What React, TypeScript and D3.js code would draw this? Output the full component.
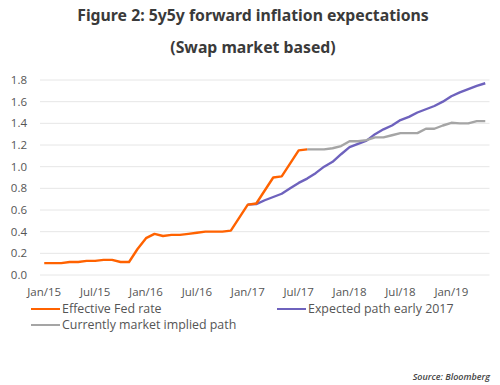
import * as d3 from "d3";

// monthly points, index 0 = Jan 2015
const tickLabels = ["Jan/15", "Jul/15", "Jan/16", "Jul/16", "Jan/17", "Jul/17", "Jan/18", "Jul/18", "Jan/19"];
const yTicks = [0, 0.2, 0.4, 0.6, 0.8, 1.0, 1.2, 1.4, 1.6, 1.8];

const fedStart = 0;
const fedRate = [
  0.11, 0.11, 0.11, 0.12, 0.12, 0.13, 0.13, 0.14, 0.14, 0.12, 0.12, 0.24,
  0.34, 0.38, 0.36, 0.37, 0.37, 0.38, 0.39, 0.40, 0.40, 0.40, 0.41, 0.53,
  0.65, 0.66, 0.78, 0.90, 0.91, 1.03, 1.15, 1.16,
];

const expectedStart = 24;
const expectedPath = [
  0.65, 0.655, 0.69, 0.72, 0.75, 0.80, 0.85, 0.89, 0.94, 1.0, 1.045, 1.115,
  1.18, 1.21, 1.24, 1.30, 1.345, 1.38, 1.43, 1.46, 1.50, 1.53, 1.56, 1.60,
  1.65, 1.685, 1.715, 1.745, 1.77,
];

const impliedStart = 31;
const impliedPath = [
  1.16, 1.16, 1.16, 1.17, 1.19, 1.235, 1.235, 1.245, 1.27, 1.27, 1.29, 1.31,
  1.31, 1.31, 1.35, 1.35, 1.38, 1.405, 1.40, 1.40, 1.42, 1.42,
];

const seriesNames = ["Effective Fed rate", "Expected path early 2017", "Currently market implied path"];
const colors = ["#ff6200", "#6e62bd", "#a5a5a5"];

const W = 500;
const H = 385;

export default function App() {
  const nPoints = expectedStart + expectedPath.length;
  const x = d3.scaleLinear().domain([-0.5, nPoints - 0.5]).range([40, 489.5]);
  const y = d3.scaleLinear().domain([0, 1.8]).range([275, 80]);

  const line = d3
    .line<[number, number]>()
    .x((d) => x(d[0]))
    .y((d) => y(d[1]));

  const toPts = (start: number, vals: number[]) =>
    vals.map((v, i) => [start + i, v] as [number, number]);

  const series = [
    toPts(fedStart, fedRate),
    toPts(expectedStart, expectedPath),
    toPts(impliedStart, impliedPath),
  ];

  const font = "'Open Sans', sans-serif";

  return (
    <svg
      width={W}
      height={H}
      style={{ position: "absolute", left: 0, top: 0, background: "#fff" }}
    >
      <text x={253} y={21} textAnchor="middle" fontFamily="'Noto Sans', sans-serif" fontWeight="bold" fontSize={15.8} fill="#3a3a3a">
        Figure 2: 5y5y forward inflation expectations
      </text>
      <text x={253} y={53} textAnchor="middle" fontFamily="'Noto Sans', sans-serif" fontWeight="bold" fontSize={15.8} fill="#3a3a3a">
        (Swap market based)
      </text>

      {yTicks.map((t) => (
        <g key={t}>
          <line x1={40} x2={489.5} y1={y(t)} y2={y(t)} stroke="#e6e6e6" strokeWidth={1} />
          <text x={27} y={y(t)} dy="0.35em" textAnchor="end" fontFamily={font} fontSize={11.5} fill="#555">
            {t.toFixed(1)}
          </text>
        </g>
      ))}

      {tickLabels.map((lab, i) => (
        <text key={lab} x={x(i * 6)} y={296} textAnchor="middle" fontFamily={font} fontSize={11.5} fill="#555">
          {lab}
        </text>
      ))}

      {[1, 2, 0].map((k) => (
        <path
          key={k}
          d={line(series[k]) || ""}
          fill="none"
          stroke={colors[k]}
          strokeWidth={2.4}
          strokeLinejoin="round"
        />
      ))}

      {[
        { k: 0, lx: 31, ly: 309 },
        { k: 1, lx: 277, ly: 309 },
        { k: 2, lx: 31, ly: 325 },
      ].map(({ k, lx, ly }) => (
        <g key={k}>
          <line x1={lx} x2={lx + 29} y1={ly} y2={ly} stroke={colors[k]} strokeWidth={2} />
          <text x={lx + 31} y={ly} dy="0.35em" fontFamily={font} fontSize={12.4} fill="#555">
            {seriesNames[k]}
          </text>
        </g>
      ))}

      <text x={490} y={380} textAnchor="end" fontFamily={font} fontStyle="italic" fontWeight="600" fontSize={9} fill="#444">
        Source: Bloomberg
      </text>
    </svg>
  );
}
